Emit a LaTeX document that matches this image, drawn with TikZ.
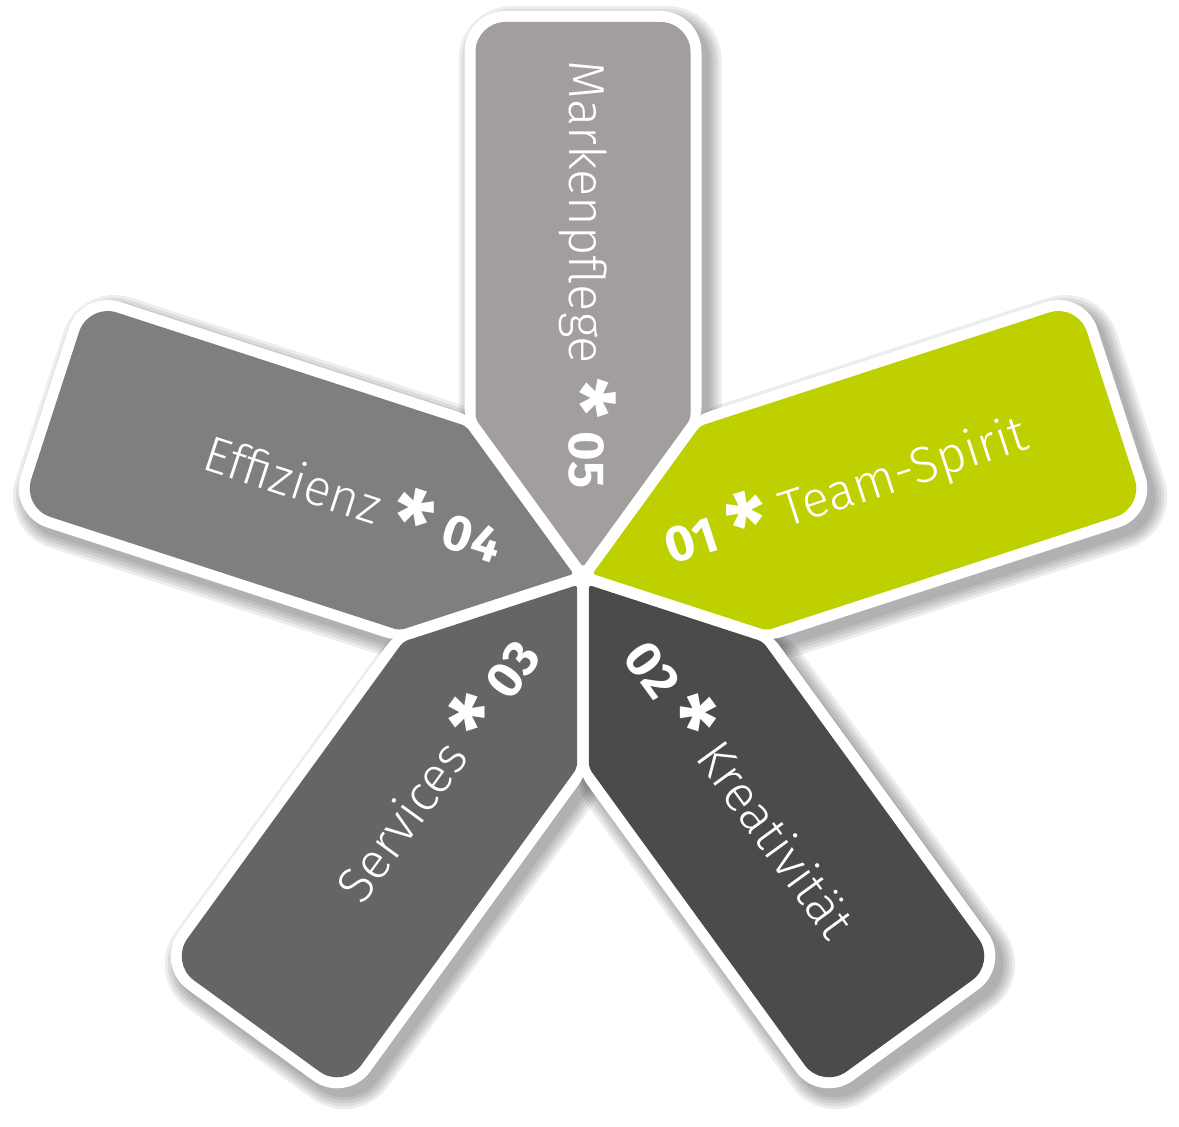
\documentclass[tikz,border=0pt]{standalone}
\usepackage{fontspec}
\newfontfamily\petalfont{Fira Sans}[UprightFont=* Light, BoldFont=* Bold]
\usetikzlibrary{positioning}
\definecolor{petalone}{RGB}{190,208,0}
\definecolor{petaltwo}{RGB}{77,75,73}
\definecolor{petalthree}{RGB}{103,101,99}
\definecolor{petalfour}{RGB}{128,127,126}
\definecolor{petalfive}{RGB}{161,158,157}

% petal pointing along +x, grown by #1 px all round
\newcommand{\petalpath}[1]{%
  ({555+#1},0) [rounded corners={(30+#1)*0.2mm}] -- ({555+#1},{107.5+#1})
  [rounded corners={(5+#1)*0.2mm}] -- ({158-0.325*#1},{107.5+#1})
  [rounded corners={(3+#1)*0.2mm}] -- ({10-1.701*#1},0)
  [rounded corners={(5+#1)*0.2mm}] -- ({158-0.325*#1},{-107.5-#1})
  [rounded corners={(30+#1)*0.2mm}] -- ({555+#1},{-107.5-#1}) -- cycle}
\newcommand{\petalstar}{\raisebox{-.36em}{\scalebox{1.75}{*}}}

\begin{document}
\begin{tikzpicture}[x=0.2mm,y=0.2mm]
  \tikzstyle{petal text}=[text=white, inner sep=0pt, font=\petalfont\fontsize{28.8}{34}\selectfont]
  \useasboundingbox (0,0) rectangle (1179,1127);
  \coordinate (hub) at (583,550);

  % soft shadows
  \foreach \ang in {90,18,-54,-126,162}{
    \begin{scope}[shift={(590,542)},rotate=\ang]
      \foreach \o in {24,21,18,15,12}
        \fill[black,fill opacity=0.07] \petalpath{\o};
    \end{scope}
  }
  % white borders
  \foreach \ang in {90,18,-54,-126,162}{
    \begin{scope}[shift={(hub)},rotate=\ang]
      \fill[white] \petalpath{11};
    \end{scope}
  }
  % petals
  \foreach \ang/\col in {90/petalfive,18/petalone,-54/petaltwo,-126/petalthree,162/petalfour}{
    \begin{scope}[shift={(hub)},rotate=\ang]
      \fill[\col] \petalpath{0};
    \end{scope}
  }

  % labels, read outwards on the right, inwards on the left
  \begin{scope}[shift={(hub)},rotate=18,transform shape]
    \node[petal text, anchor=base west] (t01) at (88,-16) {\textbf{01} \textbf{\petalstar} Team-Spirit};
  \end{scope}
  \begin{scope}[shift={(hub)},rotate=-54,transform shape]
    \node[petal text, anchor=base west] (t02) at (88,-16) {\textbf{02} \textbf{\petalstar} Kreativität};
  \end{scope}
  \begin{scope}[shift={(hub)},rotate=-126,transform shape]
    \node[petal text, rotate=180, anchor=base east] (t03) at (88,15) {Services \textbf{\petalstar} \textbf{03}};
  \end{scope}
  \begin{scope}[shift={(hub)},rotate=162,transform shape]
    \node[petal text, rotate=180, anchor=base east] (t04) at (88,15) {Effizienz \textbf{\petalstar} \textbf{04}};
  \end{scope}
  \begin{scope}[shift={(hub)},rotate=90,transform shape]
    \node[petal text, rotate=180, anchor=base east] (t05) at (88,14) {Markenpflege \textbf{\petalstar} \textbf{05}};
  \end{scope}
\end{tikzpicture}
\end{document}
